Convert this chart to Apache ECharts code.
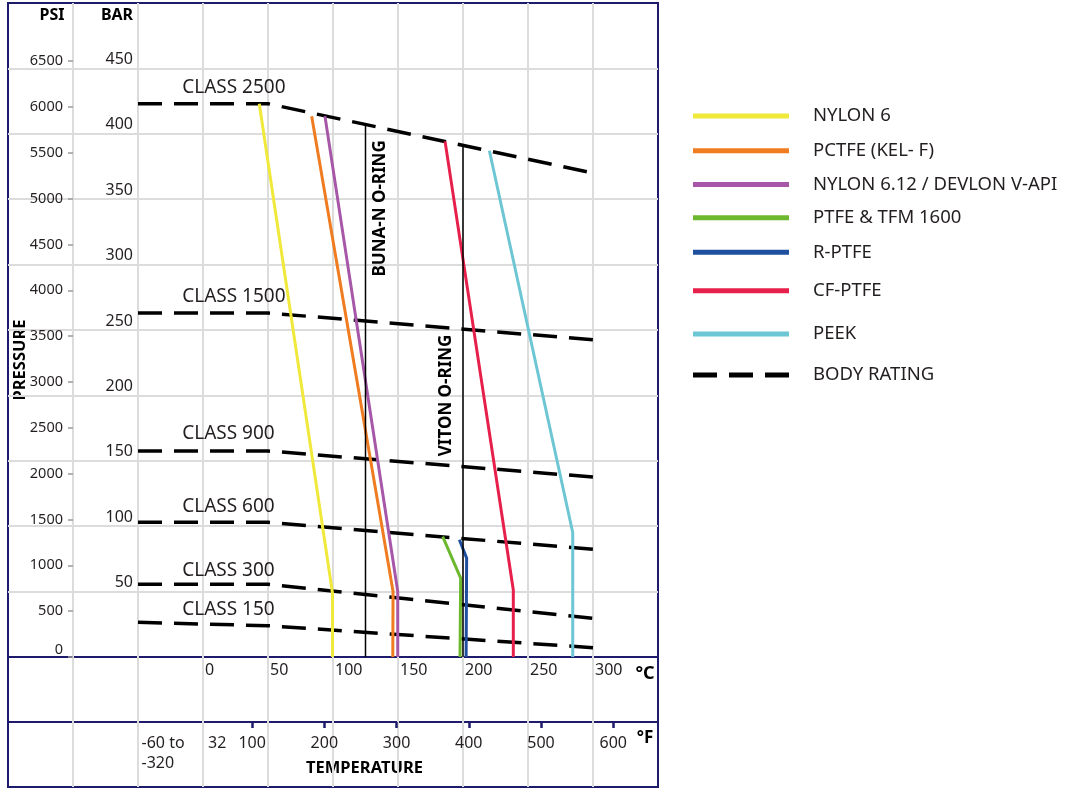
<!DOCTYPE html>
<html>
<head>
<meta charset="utf-8">
<script src="https://cdn.jsdelivr.net/npm/echarts@6/dist/echarts.min.js"></script>
<style>
html,body{margin:0;padding:0;background:#ffffff;}
#chart{width:1067px;height:789px;}
</style>
</head>
<body>
<div id="chart"></div>
<script>
// ================= DATA =================
// Body rating (ASME class) lines: temperature °C -> pressure bar
const classNames = ['CLASS 2500', 'CLASS 1500', 'CLASS 900', 'CLASS 600', 'CLASS 300', 'CLASS 150'];
const classTempsC = [-50, 50, 300];
const class2500Bar = [423, 423, 370];
const class1500Bar = [263, 263, 242.5];
const class900Bar = [157.5, 157.5, 137.6];
const class600Bar = [103, 103, 82.3];
const class300Bar = [55.6, 55.6, 29.6];
const class150Bar = [26.5, 23.9, 7.1];
const bodyRatingName = 'BODY RATING';

// Seat materials
const materialNames = ['NYLON 6', 'PCTFE (KEL- F)', 'NYLON 6.12 / DEVLON V-API', 'PTFE & TFM 1600', 'R-PTFE', 'CF-PTFE', 'PEEK'];
const nylon6TempC = [43.3, 99.6, 99.6];
const nylon6Bar = [423, 49, 0];
const pctfeTempC = [83.6, 146.2, 146.0];
const pctfeBar = [413.5, 50, 0];
const nylon612TempC = [93.8, 149.8, 149.8];
const nylon612Bar = [413.5, 50, 0];
const ptfeTempC = [184.4, 198.2, 197.7];
const ptfeBar = [92.1, 60.3, 0];
const rptfeTempC = [197.2, 202.8, 202.4];
const rptfeBar = [89.6, 75.6, 0];
const cfptfeTempC = [186.2, 238.7, 238.7];
const cfptfeBar = [394.2, 51.3, 0];
const peekTempC = [220.3, 284.4, 284.4];
const peekBar = [387, 95.2, 0];

// O-ring limits
const oringNames = ['BUNA-N O-RING', 'VITON O-RING'];
const oringTempC = [125, 200];
const oringTopBar = [406.5, 390.5];

// Axis ticks / labels
const psiTicks = [0, 500, 1000, 1500, 2000, 2500, 3000, 3500, 4000, 4500, 5000, 5500, 6000, 6500];
const celsiusTicks = [0, 50, 100, 150, 200, 250, 300];
const fahrenheitTicks = [100, 200, 300, 400, 500, 600];
const fahrenheitLowValues = [-60, 32];
const fahrenheitLowLabels = ['-60 to\n-320', '32'];

// Axis titles
const psiTitle = 'PSI', barTitle = 'BAR', pressureTitle = 'PRESSURE';
const celsiusTitle = '°C', fahrenheitTitle = '°F', temperatureTitle = 'TEMPERATURE';

// ================= LAYOUT / STYLE =================
const NAVY = '#1e1b6c';
const GRIDC = '#dcdcdc';
const TXT = '#231f20';
const FONT = '"Noto Sans", sans-serif';
const materialColors = ['#f0e93b', '#f07c21', '#a657a7', '#6cb82f', '#1f4f9f', '#e61f4b', '#6dc6d3'];
const cMin = -150, cMax = 350;
const fMin = cMin * 9 / 5 + 32, fMax = cMax * 9 / 5 + 32;
const barMax = 500, psiMax = 7135;
const classLabelTempC = -16;              // label anchor (left edge)
const classLabelDist = [6.5, 6.5, 7, 5.5, 4, 2.5];
const oringLabelBar = [343, 200];
const oringLabelPos = ['right', 'left'];
const oringLabelDist = [14, 16];
const legendCenterY = [116, 150.7, 184.5, 217.7, 252.3, 290.7, 334, 375];

const zip = (xs, ys) => xs.map((x, i) => [x, ys[i]]);
const classBars = [class2500Bar, class1500Bar, class900Bar, class600Bar, class300Bar, class150Bar];
const materialTemps = [nylon6TempC, pctfeTempC, nylon612TempC, ptfeTempC, rptfeTempC, cfptfeTempC, peekTempC];
const materialBars = [nylon6Bar, pctfeBar, nylon612Bar, ptfeBar, rptfeBar, cfptfeBar, peekBar];

const series = [];
classBars.forEach((bars, i) => {
  series.push({
    type: 'line', name: bodyRatingName, xAxisIndex: 0, yAxisIndex: 0,
    data: zip(classTempsC, bars), symbol: 'none', color: '#000000',
    lineStyle: { width: 3.5, type: [24, 12] }, z: 2, silent: true,
    markPoint: {
      symbol: 'circle', symbolSize: 1, itemStyle: { color: 'rgba(0,0,0,0)' }, silent: true,
      label: { show: true, position: 'top', distance: classLabelDist[i], align: 'left',
        formatter: classNames[i], fontSize: 19, color: TXT, fontFamily: FONT },
      data: [{ coord: [classLabelTempC, bars[0]] }]
    }
  });
});
materialNames.forEach((n, i) => {
  series.push({
    type: 'line', name: n, xAxisIndex: 0, yAxisIndex: 0,
    data: zip(materialTemps[i], materialBars[i]), symbol: 'none', color: materialColors[i],
    lineStyle: { width: 3 }, z: 3, silent: true
  });
});
oringNames.forEach((n, i) => {
  series.push({
    type: 'line', name: n, xAxisIndex: 0, yAxisIndex: 0,
    data: [[oringTempC[i], oringTopBar[i]], [oringTempC[i], 0]], symbol: 'none', color: '#000000',
    lineStyle: { width: 1.5 }, z: 4, silent: true,
    markPoint: {
      symbol: 'circle', symbolSize: 1, itemStyle: { color: 'rgba(0,0,0,0)' }, silent: true,
      label: { show: true, position: oringLabelPos[i], distance: oringLabelDist[i], rotate: 90,
        align: 'center', verticalAlign: 'middle', formatter: n, fontWeight: 'bold',
        fontSize: 17, color: '#000', fontFamily: FONT },
      data: [{ coord: [oringTempC[i], oringLabelBar[i]] }]
    }
  });
});

const legendNames = materialNames.concat([bodyRatingName]);
const dashIcon = 'path://M0,0h24v5h-24zM36,0h24v5h-24zM72,0h24v5h-24z';
const legends = legendNames.map((n, i) => ({
  data: [n], left: 693, top: legendCenterY[i] - 10, orient: 'vertical', padding: 0,
  itemWidth: 96, itemHeight: 5, icon: n === bodyRatingName ? dashIcon : 'rect',
  itemStyle: { borderWidth: 0 }, selectedMode: false,
  textStyle: { fontSize: 18.5, color: TXT, lineHeight: 20, padding: [0, 0, 0, 19], fontFamily: FONT }
}));

const hiddenAxisParts = { axisLine: { show: false }, axisTick: { show: false }, axisLabel: { show: false } };
const splitGray = { show: true, showMinLine: false, showMaxLine: false, lineStyle: { color: GRIDC, width: 2 } };
const plain = (v) => String(v);
const boldText = (txt, x, y, size, extra) => Object.assign({
  type: 'text', x: x, y: y, silent: true,
  style: { text: txt, font: 'bold ' + size + 'px "Noto Sans", sans-serif', fill: '#000', align: 'center', verticalAlign: 'middle' }
}, extra || {});

const option = {
  animation: false,
  backgroundColor: '#ffffff',
  textStyle: { fontFamily: FONT, color: TXT },
  grid: [
    { left: 8, top: 3, width: 650, height: 654, show: true, borderColor: NAVY, borderWidth: 2, backgroundColor: 'transparent', outerBoundsMode: 'none' },
    { left: 8, top: 657, width: 650, height: 65, show: true, borderColor: NAVY, borderWidth: 2, backgroundColor: 'transparent', outerBoundsMode: 'none' },
    { left: 8, top: 722, width: 650, height: 65, show: true, borderColor: NAVY, borderWidth: 2, backgroundColor: 'transparent', outerBoundsMode: 'none' }
  ],
  xAxis: [
    Object.assign({ gridIndex: 0, type: 'value', min: cMin, max: cMax, interval: 50, splitLine: splitGray }, hiddenAxisParts),
    { gridIndex: 1, type: 'value', min: cMin, max: cMax, interval: 50, position: 'top',
      splitLine: splitGray, axisLine: { show: false }, axisTick: { show: false },
      axisLabel: { show: true, inside: true, customValues: celsiusTicks, align: 'left', verticalAlign: 'top',
        margin: 3, lineHeight: 20, fontSize: 16, color: TXT, padding: [0, 0, 0, 2], formatter: plain } },
    Object.assign({ gridIndex: 2, type: 'value', min: cMin, max: cMax, interval: 50, position: 'bottom', splitLine: splitGray }, hiddenAxisParts),
    { gridIndex: 2, type: 'value', min: fMin, max: fMax, position: 'top',
      splitLine: { show: false }, axisLine: { show: false },
      axisTick: { show: true, inside: true, customValues: fahrenheitTicks, length: 6, lineStyle: { color: NAVY, width: 2.5 } },
      axisLabel: { show: true, inside: true, customValues: fahrenheitTicks, align: 'center', verticalAlign: 'top',
        margin: 11, lineHeight: 20, fontSize: 16, color: TXT, formatter: plain } },
    { gridIndex: 2, type: 'value', min: fMin, max: fMax, position: 'top',
      splitLine: { show: false }, axisLine: { show: false }, axisTick: { show: false },
      axisLabel: { show: true, inside: true, customValues: fahrenheitLowValues, align: 'left', verticalAlign: 'top',
        margin: 11, lineHeight: 20, fontSize: 16, color: TXT, padding: [0, 0, 0, 5],
        formatter: (v) => { const k = fahrenheitLowValues.indexOf(v); return k >= 0 ? fahrenheitLowLabels[k] : ''; } } }
  ],
  yAxis: [
    { gridIndex: 0, type: 'value', min: 0, max: barMax, interval: 50, position: 'left', offset: -130,
      splitLine: splitGray, axisLine: { show: false }, axisTick: { show: false },
      axisLabel: { show: true, showMinLabel: false, showMaxLabel: false, margin: 5, verticalAlign: 'bottom',
        fontSize: 16, color: TXT, padding: [0, 0, 1, 0], formatter: plain } },
    { gridIndex: 0, type: 'value', min: 0, max: psiMax, position: 'left', offset: -65,
      splitLine: { show: false }, axisLine: { show: false },
      axisTick: { show: true, customValues: psiTicks, length: 5, lineStyle: { color: '#9a9a9a', width: 1.5 } },
      axisLabel: { show: true, customValues: psiTicks, margin: 10, fontSize: 14.5, color: TXT, verticalAlignMinLabel: 'bottom', formatter: plain } },
    Object.assign({ gridIndex: 1, type: 'value', min: 0, max: 1, splitLine: { show: false } }, hiddenAxisParts),
    Object.assign({ gridIndex: 2, type: 'value', min: 0, max: 1, splitLine: { show: false } }, hiddenAxisParts)
  ],
  legend: legends,
  graphic: [
    boldText(psiTitle, 52, 15, 16),
    boldText(barTitle, 117, 15, 16),
    boldText(pressureTitle, 20, 360, 16.5, { rotation: Math.PI / 2 }),
    boldText(celsiusTitle, 645, 674, 18),
    boldText(fahrenheitTitle, 645, 738, 17),
    boldText(temperatureTitle, 364.5, 768, 16.5)
  ],
  series: series
};

const chart = echarts.init(document.getElementById('chart'), null, { renderer: 'canvas' });
chart.setOption(option);
</script>
</body>
</html>
